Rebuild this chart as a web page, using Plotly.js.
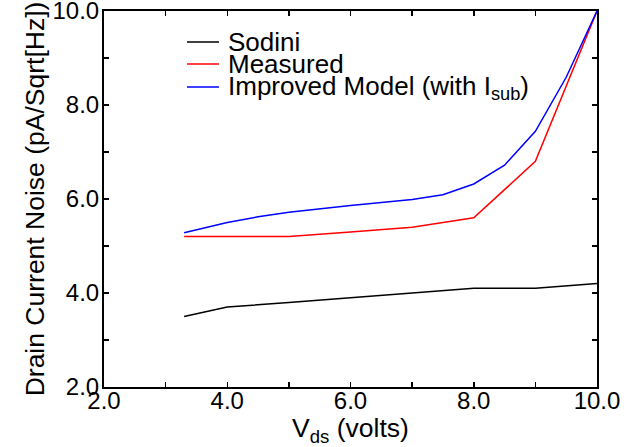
<!DOCTYPE html>
<html>
<head>
<meta charset="utf-8">
<script src="https://cdn.plot.ly/plotly-3.0.1.min.js"></script>
<style>html,body{margin:0;padding:0;background:#fff}#chart{width:640px;height:447px}</style>
</head>
<body>
<div id="chart"></div>
<script>
const sodiniX = [3.3, 4, 5, 6, 7, 8, 9, 10];
const sodiniY = [3.5, 3.7, 3.8, 3.9, 4.0, 4.1, 4.1, 4.2];
const measuredX = [3.3, 4, 5, 6, 7, 7.5, 8, 9, 10];
const measuredY = [5.2, 5.2, 5.2, 5.3, 5.4, 5.5, 5.6, 6.8, 10.0];
const improvedX = [3.3, 4, 4.5, 5, 6, 7, 7.5, 8, 8.5, 9, 9.5, 10];
const improvedY = [5.28, 5.5, 5.62, 5.72, 5.86, 5.99, 6.09, 6.32, 6.72, 7.44, 8.59, 10.0];
const seriesNames = ['Sodini', 'Measured', 'Improved Model (with I<sub>sub</sub>)'];
const seriesColors = ['#000000', '#ff0000', '#0000ff'];
const xTicks = [2, 4, 6, 8, 10];
const yTicks = [2, 4, 6, 8, 10];
const tickText = v => v.toFixed(1);

const fam = 'Liberation Sans, Arial, sans-serif';
const tickFont = {family: fam, size: 24, color: '#000'};
const titleFont = {family: fam, size: 26.5, color: '#000'};
const legendFont = {family: fam, size: 26, color: '#000'};

const xs = [sodiniX, measuredX, improvedX];
const ys = [sodiniY, measuredY, improvedY];
const traces = xs.map((x, i) => ({
  x: x, y: ys[i], name: seriesNames[i], mode: 'lines',
  line: {color: seriesColors[i], width: 1.5}, showlegend: false
}));

// manual legend (compact spacing like the reference)
const W = 640, H = 447, ML = 104, MR = 43, MT = 11, MB = 60;
const pw = W - ML - MR, ph = H - MT - MB;
const px = v => (v - ML) / pw;
const py = v => 1 - (v - MT) / ph;
const legendRowsY = [42, 64, 87];
const shapes = [], annotations = [];
seriesNames.forEach((n, i) => {
  shapes.push({type: 'line', xref: 'paper', yref: 'paper',
    x0: px(187), x1: px(219), y0: py(legendRowsY[i]), y1: py(legendRowsY[i]),
    line: {color: seriesColors[i], width: 1.5}});
  annotations.push({xref: 'paper', yref: 'paper', x: px(226), y: py(legendRowsY[i]),
    xanchor: 'left', yanchor: 'middle', showarrow: false, text: n, font: legendFont});
});

const axisCommon = {
  showgrid: false, zeroline: false, showline: true, linecolor: '#000', linewidth: 2,
  mirror: 'ticks', ticks: 'inside', ticklen: 5, tickwidth: 1.5, tickcolor: '#000',
  tickfont: tickFont, ticklabeloverflow: 'allow',
  minor: {ticks: 'inside', ticklen: 5, tickwidth: 1.5, tickcolor: '#000', dtick: 1}
};
const layout = {
  width: W, height: H,
  margin: {l: ML, r: MR, t: MT, b: MB},
  paper_bgcolor: '#fff', plot_bgcolor: '#fff',
  font: tickFont,
  showlegend: false,
  shapes: shapes, annotations: annotations,
  xaxis: Object.assign({}, axisCommon, {
    range: [2, 10], tickvals: xTicks, ticktext: xTicks.map(tickText),
    ticklabelstandoff: -9,
    title: {text: 'V<sub>ds</sub> (volts)', font: titleFont, standoff: 3}
  }),
  yaxis: Object.assign({}, axisCommon, {
    range: [2, 10], tickvals: yTicks, ticktext: yTicks.map(tickText),
    ticklabelstandoff: -2,
    title: {text: 'Drain Current Noise (pA/Sqrt[Hz])', font: titleFont, standoff: 0}
  })
};
Plotly.newPlot('chart', traces, layout, {staticPlot: true});
</script>
</body>
</html>
